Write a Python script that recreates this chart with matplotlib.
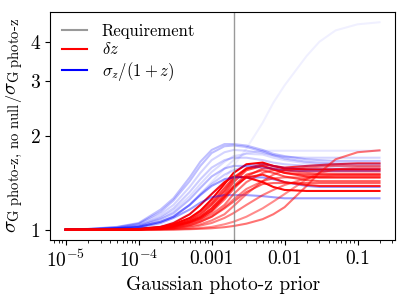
import matplotlib
matplotlib.use('Agg')
import matplotlib.pyplot as plt
import matplotlib.ticker as ticker
import numpy as np

plt.rcParams['font.family'] = 'serif'
plt.rcParams['font.serif'] = ['cmr10']
plt.rcParams['mathtext.fontset'] = 'cm'
plt.rcParams['axes.unicode_minus'] = False
plt.rcParams['axes.formatter.use_mathtext'] = True

# prior widths
x = [1e-5, 2e-5, 5e-5, 1e-4, 2e-4, 3e-4, 5e-4, 7e-4, 1e-3, 1.5e-3, 2e-3,
     3e-3, 5e-3, 7e-3, 1e-2, 2e-2, 3e-2, 5e-2, 0.1, 0.2]
requirement = 0.002

# delta z curves (value, alpha)
red_curves = [
    ([1, 1, 1, 1.005, 1.02, 1.04, 1.09, 1.15, 1.25, 1.4, 1.52, 1.62, 1.64, 1.6, 1.57, 1.56, 1.56, 1.56, 1.56, 1.56], 1.0),
    ([1, 1, 1, 1.005, 1.02, 1.05, 1.12, 1.2, 1.3, 1.42, 1.48, 1.47, 1.42, 1.37, 1.34, 1.33, 1.33, 1.33, 1.33, 1.33], 0.95),
    ([1, 1, 1, 1.003, 1.01, 1.03, 1.07, 1.12, 1.2, 1.33, 1.45, 1.57, 1.62, 1.6, 1.58, 1.6, 1.61, 1.62, 1.63, 1.63], 0.8),
    ([1, 1, 1, 1.003, 1.01, 1.03, 1.06, 1.1, 1.17, 1.3, 1.42, 1.55, 1.6, 1.56, 1.52, 1.5, 1.5, 1.5, 1.5, 1.5], 0.7),
    ([1, 1, 1, 1.003, 1.015, 1.035, 1.08, 1.14, 1.22, 1.36, 1.47, 1.57, 1.6, 1.56, 1.52, 1.48, 1.47, 1.47, 1.47, 1.47], 0.75),
    ([1, 1, 1, 1.002, 1.01, 1.02, 1.05, 1.08, 1.14, 1.25, 1.35, 1.48, 1.57, 1.57, 1.55, 1.54, 1.54, 1.54, 1.54, 1.54], 0.6),
    ([1, 1, 1, 1.002, 1.01, 1.025, 1.06, 1.1, 1.17, 1.28, 1.38, 1.5, 1.55, 1.52, 1.48, 1.44, 1.43, 1.43, 1.43, 1.43], 0.65),
    ([1, 1, 1, 1.002, 1.008, 1.02, 1.045, 1.075, 1.12, 1.2, 1.3, 1.42, 1.52, 1.55, 1.55, 1.52, 1.51, 1.51, 1.51, 1.51], 0.55),
    ([1, 1, 1, 1.002, 1.01, 1.025, 1.055, 1.09, 1.15, 1.27, 1.37, 1.47, 1.5, 1.46, 1.42, 1.39, 1.38, 1.38, 1.38, 1.38], 0.85),
    ([1, 1, 1, 1, 1.005, 1.01, 1.025, 1.04, 1.07, 1.12, 1.19, 1.3, 1.43, 1.5, 1.55, 1.58, 1.59, 1.6, 1.6, 1.6], 0.5),
    ([1, 1, 1, 1, 1, 1, 1.003, 1.006, 1.01, 1.018, 1.027, 1.045, 1.08, 1.12, 1.18, 1.38, 1.52, 1.68, 1.77, 1.795], 0.55),
    ([1, 1, 1, 1, 1.002, 1.005, 1.015, 1.03, 1.05, 1.09, 1.13, 1.2, 1.29, 1.34, 1.39, 1.46, 1.48, 1.49, 1.49, 1.49], 0.5),
    ([1, 1, 1, 1, 1.003, 1.01, 1.03, 1.06, 1.1, 1.18, 1.25, 1.35, 1.43, 1.46, 1.47, 1.47, 1.47, 1.47, 1.47, 1.47], 0.5),
    ([1, 1, 1, 1.001, 1.005, 1.015, 1.035, 1.06, 1.1, 1.17, 1.23, 1.32, 1.4, 1.41, 1.41, 1.41, 1.41, 1.41, 1.41, 1.41], 0.6),
    ([1, 1, 1, 1, 1, 1.002, 1.006, 1.012, 1.02, 1.04, 1.06, 1.1, 1.17, 1.23, 1.3, 1.45, 1.52, 1.56, 1.58, 1.58], 0.45),
]

# sigma_z/(1+z) curves (value, alpha)
blue_curves = [
    ([1, 1.005, 1.02, 1.05, 1.16, 1.26, 1.47, 1.65, 1.8, 1.88, 1.88, 1.86, 1.8, 1.75, 1.72, 1.68, 1.67, 1.66, 1.66, 1.66], 0.25),
    ([1, 1.004, 1.018, 1.045, 1.14, 1.24, 1.43, 1.6, 1.76, 1.85, 1.86, 1.84, 1.78, 1.73, 1.69, 1.65, 1.64, 1.63, 1.63, 1.63], 0.25),
    ([1, 1.004, 1.015, 1.04, 1.12, 1.2, 1.37, 1.52, 1.67, 1.77, 1.8, 1.79, 1.76, 1.73, 1.71, 1.7, 1.7, 1.7, 1.7, 1.7], 0.17),
    ([1, 1.003, 1.01, 1.03, 1.09, 1.15, 1.28, 1.4, 1.53, 1.65, 1.72, 1.75, 1.74, 1.7, 1.67, 1.63, 1.62, 1.62, 1.62, 1.62], 0.14),
    ([1, 1.002, 1.008, 1.02, 1.06, 1.11, 1.2, 1.3, 1.42, 1.57, 1.67, 1.76, 1.79, 1.79, 1.79, 1.79, 1.79, 1.79, 1.79, 1.79], 0.1),
    ([1, 1.002, 1.008, 1.02, 1.06, 1.1, 1.2, 1.29, 1.38, 1.45, 1.47, 1.47, 1.47, 1.45, 1.42, 1.38, 1.37, 1.37, 1.37, 1.37], 0.4),
    ([1, 1.002, 1.006, 1.015, 1.05, 1.09, 1.16, 1.22, 1.27, 1.29, 1.29, 1.29, 1.28, 1.27, 1.26, 1.26, 1.26, 1.26, 1.26, 1.26], 0.38),
    ([1, 1.003, 1.012, 1.03, 1.1, 1.17, 1.32, 1.45, 1.58, 1.67, 1.7, 1.7, 1.67, 1.64, 1.62, 1.6, 1.6, 1.6, 1.6, 1.6], 0.2),
    ([1, 1.002, 1.01, 1.025, 1.08, 1.13, 1.25, 1.36, 1.48, 1.57, 1.6, 1.6, 1.58, 1.57, 1.55, 1.54, 1.54, 1.54, 1.54, 1.54], 0.28),
    ([1, 1.002, 1.008, 1.02, 1.06, 1.1, 1.2, 1.3, 1.4, 1.5, 1.55, 1.6, 1.62, 1.6, 1.58, 1.57, 1.57, 1.57, 1.57, 1.57], 0.2),
    ([1, 1, 1.005, 1.01, 1.03, 1.06, 1.12, 1.2, 1.3, 1.45, 1.6, 1.82, 2.2, 2.55, 2.9, 3.6, 4.0, 4.35, 4.55, 4.62], 0.06),
]

fig = plt.figure(figsize=(4.07, 2.97), dpi=100)
ax = fig.add_axes([0.123, 0.192, 0.848, 0.768])

n = max(len(red_curves), len(blue_curves))
for i in range(n):
    if i < len(blue_curves):
        y, a = blue_curves[i]
        ax.plot(x, y, color='blue', alpha=a, lw=1.5)
    if i < len(red_curves):
        y, a = red_curves[i]
        ax.plot(x, y, color='red', alpha=a, lw=1.5)

ax.set_xscale('log')
ax.set_yscale('log')
ax.axvline(requirement, color='gray', alpha=0.8, lw=1.0)

ax.xaxis.set_major_locator(ticker.FixedLocator([1e-5, 1e-4, 1e-3, 1e-2, 0.1]))
ax.xaxis.set_major_formatter(ticker.FixedFormatter([r'$10^{-5}$', r'$10^{-4}$', '0.001', '0.01', '0.1']))
ax.yaxis.set_major_locator(ticker.FixedLocator([1, 2, 3, 4]))
ax.yaxis.set_major_formatter(ticker.FixedFormatter(['1', '2', '3', '4']))
ax.yaxis.set_minor_locator(ticker.NullLocator())
ax.tick_params(labelsize=14)

ax.plot([], [], color='gray', alpha=0.8, lw=1.5, label='Requirement')
ax.plot([], [], color='red', lw=1.5, label=r'$\delta z$')
ax.plot([], [], color='blue', lw=1.5, label=r'$\sigma_z/(1+z)$')
ax.legend(loc='upper left', frameon=False, fontsize=12, handlelength=1.5,
          labelspacing=0.15, borderaxespad=0.3, handletextpad=0.9)

ax.set_xlabel('Gaussian photo-z prior', fontsize=14)
ax.set_ylabel(r'$\left.\sigma_{\rm G\ \text{photo-z, no null}}\right/\sigma_{\rm G\ \text{photo-z}}$', fontsize=15)

fig.savefig('out.png', dpi=100)
